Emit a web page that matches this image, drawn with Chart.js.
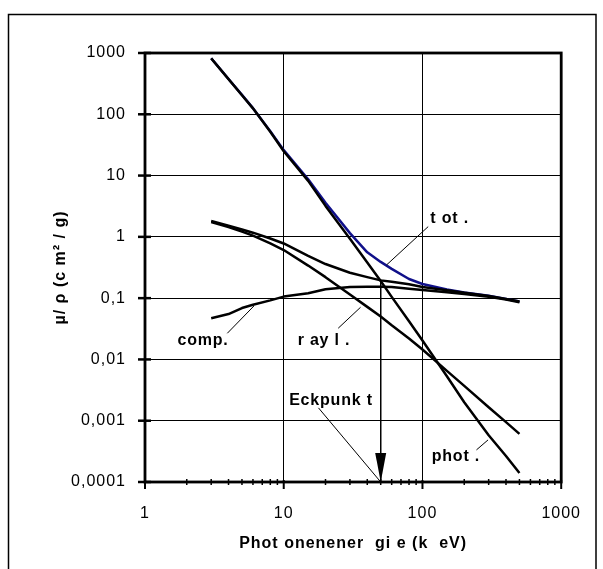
<!DOCTYPE html>
<html><head><meta charset="utf-8">
<script src="https://cdn.jsdelivr.net/npm/chart.js@4.4.1/dist/chart.umd.min.js"></script>
<style>html,body{margin:0;padding:0;background:#fff}</style>
</head><body>
<canvas id="c" width="603" height="569"></canvas>
<script>
// ---- data ----
const energies = [3,4,5,6,8,10,15,20,30,40,50,60,80,100,150,200,300,400,500];
const photo    = [818,375,205,125,52,25,8.2,3.2,0.93,0.38,0.19,0.105,0.042,0.0203,0.0053,0.002,0.00058,0.000265,0.00014];
const scatter  = [1.82,1.52,1.32,1.17,0.94,0.78,0.49,0.36,0.26,0.22,0.195,0.185,0.168,0.152,0.135,0.123,0.108,0.097,0.088];
const comp     = [0.047,0.055,0.069,0.078,0.092,0.106,0.12,0.14,0.152,0.153,0.153,0.152,0.142,0.136,0.125,0.117,0.105,0.095,0.086];
const rayl     = [1.75,1.45,1.22,1.05,0.78,0.61,0.34,0.22,0.115,0.072,0.05,0.036,0.022,0.0145,0.0065,0.0037,0.00166,0.00095,0.00061];
const tot      = [820,377,207,126,53,26,8.7,3.6,1.15,0.56,0.39,0.3,0.205,0.17,0.138,0.124,0.109,0.097,0.088];

const xMajorTicks = [1,10,100,1000];
const xMinorTicks = [2,3,4,5,6,7,8,9,20,30,40,50,60,70,80,90,200,300,400,500,600,700,800,900];
const yMajorTicks = [0.0001,0.001,0.01,0.1,1,10,100,1000];
const yTickLabels = ['0,0001','0,001','0,01','0,1','1','10','100','1000'];

// annotation labels [text, energy, value]
const labels = [
  ['t ot .', 157, 1.96],
  ['comp.', 2.62, 0.02],
  ['r ay l .', 19.5, 0.02],
  ['phot .', 174, 0.000257],
  ['Eckpunk t', 21.9, 0.0021]
];
// leader lines [[e1,v1],[e2,v2]]
const leaders = [
  [[110,1.47],[55.1,0.348]],
  [[3.92,0.0267],[6.1,0.0746]],
  [[24.7,0.0323],[35.8,0.071]],
  [[245,0.000334],[297,0.000486]],
  [[17.8,0.00162],[50,0.0001]]
];
const arrow = [[50,0.2],[50,0.0001]];

const pts = arr => energies.map((e,i)=>({x:e,y:arr[i]}));
const seg = s => s.map(p=>({x:p[0],y:p[1]}));

const curveStyle = (c)=>({borderColor:c,borderWidth:2.5,pointRadius:0,tension:0,fill:false,borderJoinStyle:'round',borderCapStyle:'butt'});
const thin = {borderColor:'#000',borderWidth:1,pointRadius:0,tension:0,fill:false};

const datasets = [
  ...leaders.map(l=>Object.assign({label:'',data:seg(l)},thin)),
  Object.assign({label:'arrow',data:seg(arrow)},thin),
  Object.assign({label:'phot.',data:pts(photo)},curveStyle('#000')),
  Object.assign({label:'scatter',data:pts(scatter)},curveStyle('#000')),
  Object.assign({label:'comp.',data:pts(comp)},curveStyle('#000')),
  Object.assign({label:'rayl.',data:pts(rayl)},curveStyle('#000')),
  Object.assign({label:'tot.',data:pts(tot)},curveStyle('#10108a')),
];

const FONT = "'Liberation Sans', Arial, sans-serif";

const spacing = {
  id:'spacing',
  beforeUpdate(chart){ chart.ctx.letterSpacing='1px'; },
  beforeDraw(chart){ chart.ctx.letterSpacing='1px'; }
};

const deco = {
  id:'deco',
  beforeDraw(chart){
    const ctx=chart.ctx; ctx.save();
    ctx.fillStyle='#fff'; ctx.fillRect(0,0,chart.width,chart.height);
    ctx.strokeStyle='#000'; ctx.lineWidth=1.5;
    ctx.beginPath(); ctx.moveTo(8.5,chart.height+5); ctx.lineTo(8.5,14.5); ctx.lineTo(596,14.5); ctx.lineTo(596,chart.height+5); ctx.stroke();
    ctx.restore();
  },
  afterDatasetsDraw(chart){
    const ctx=chart.ctx, a=chart.chartArea, xs=chart.scales.x, ys=chart.scales.y;
    ctx.save();
    ctx.strokeStyle='#000';
    // plot frame
    ctx.lineWidth=2.8;
    ctx.strokeRect(a.left,a.top,a.right-a.left,a.bottom-a.top);
    // y ticks
    ctx.lineWidth=2.5;
    yMajorTicks.forEach(v=>{const y=ys.getPixelForValue(v);ctx.beginPath();ctx.moveTo(a.left-7,y);ctx.lineTo(a.left+6,y);ctx.stroke();});
    // x ticks
    ctx.lineWidth=2;
    xMajorTicks.forEach(v=>{const x=xs.getPixelForValue(v);ctx.beginPath();ctx.moveTo(x,a.bottom-2);ctx.lineTo(x,a.bottom+7);ctx.stroke();});
    ctx.lineWidth=1.5;
    xMinorTicks.forEach(v=>{const x=xs.getPixelForValue(v);ctx.beginPath();ctx.moveTo(x,a.bottom-3);ctx.lineTo(x,a.bottom+3);ctx.stroke();});
    // arrowhead
    const ax=xs.getPixelForValue(arrow[1][0]), ay=ys.getPixelForValue(arrow[1][1]);
    ctx.fillStyle='#000';
    ctx.beginPath();ctx.moveTo(ax,ay);ctx.lineTo(ax-5.5,ay-29);ctx.lineTo(ax+5.5,ay-29);ctx.closePath();ctx.fill();
    // labels
    ctx.letterSpacing='0.8px';
    ctx.font="bold 16px "+FONT; ctx.textAlign='center'; ctx.textBaseline='middle'; ctx.fillStyle='#000';
    labels.forEach(l=>ctx.fillText(l[0],xs.getPixelForValue(l[1]),ys.getPixelForValue(l[2])));
    ctx.restore();
  }
};

new Chart(document.getElementById('c'),{
  type:'line',
  data:{datasets},
  options:{
    responsive:false, animation:false, devicePixelRatio:1,
    layout:{padding:{left:0,top:53,right:41,bottom:0}},
    plugins:{legend:{display:false},tooltip:{enabled:false}},
    scales:{
      x:{type:'logarithmic',min:1,max:1000,
        afterBuildTicks:s=>{s.ticks=xMajorTicks.map(v=>({value:v}));},
        afterFit:s=>{s.height=569-482;},
        ticks:{callback:v=>String(v),color:'#000',font:{family:FONT,size:16},padding:22,maxRotation:0,autoSkip:false},
        grid:{color:'#000',lineWidth:1,drawTicks:false},
        border:{display:false},
        title:{display:true,text:'Phot onenener  gi e (k  eV)',color:'#000',font:{family:FONT,size:16,weight:'bold'},padding:{top:0,bottom:16}}
      },
      y:{type:'logarithmic',min:0.0001,max:1000,
        afterBuildTicks:s=>{s.ticks=yMajorTicks.map(v=>({value:v}));},
        afterFit:s=>{s.width=145;},
        ticks:{callback:(v)=>yTickLabels[yMajorTicks.indexOf(v)] ?? '',color:'#000',font:{family:FONT,size:16},padding:19,autoSkip:false},
        grid:{color:'#000',lineWidth:1,drawTicks:false},
        border:{display:false},
        title:{display:true,text:'µ/ ρ (c m² / g)',color:'#000',font:{family:FONT,size:16,weight:'bold'},padding:{top:51,bottom:0}}
      }
    }
  },
  plugins:[spacing,deco]
});
</script>
</body></html>
